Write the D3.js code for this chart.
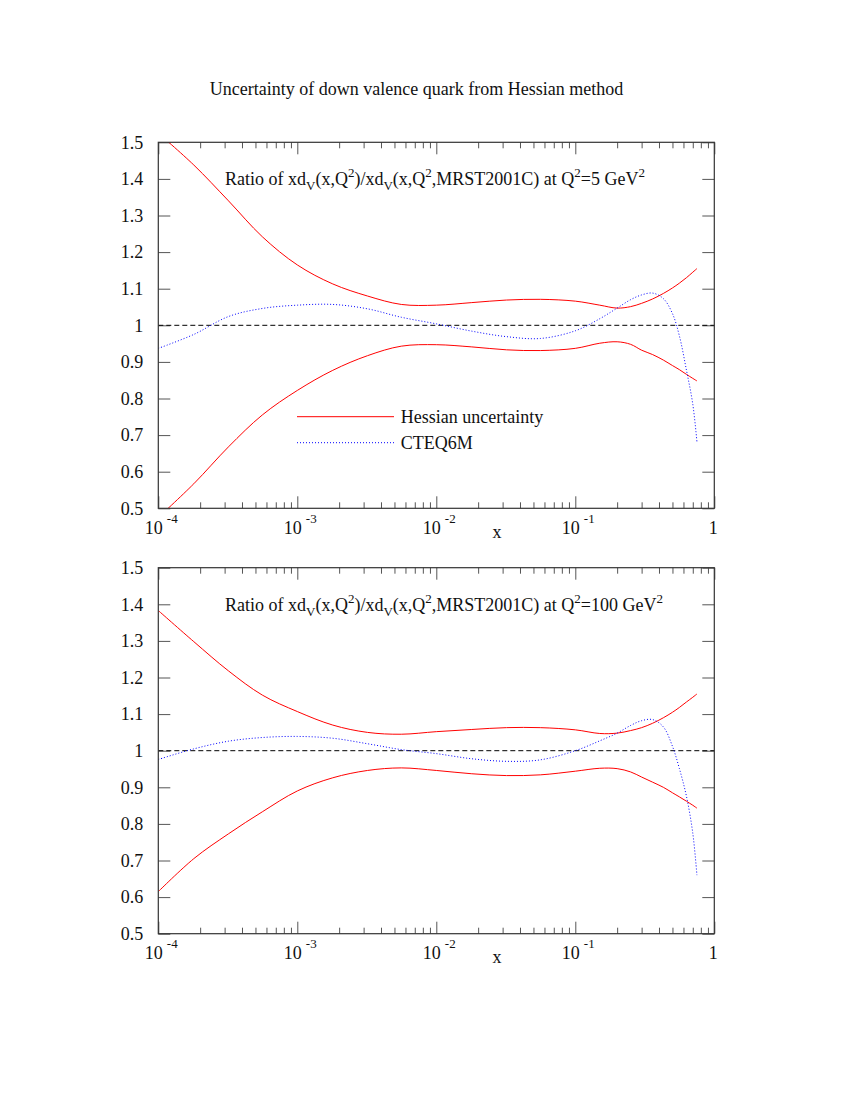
<!DOCTYPE html>
<html>
<head>
<meta charset="utf-8">
<script src="https://cdn.jsdelivr.net/npm/d3@7"></script>
<style>
  body { margin: 0; background: #fff; }
  text { font-family: "Liberation Serif", "Times New Roman", serif; fill: #111; }
</style>
</head>
<body>
<svg id="chart" width="856" height="1107"></svg>
<script>
// x sample points (shared by all curves)
var xPoints = [1e-4, 1.8e-4, 3.2e-4, 5.6e-4, 1e-3, 1.8e-3, 3.2e-3, 5.6e-3, 1e-2, 1.8e-2, 3.2e-2, 5.6e-2,
               0.1, 0.15, 0.2, 0.25, 0.3, 0.36, 0.43, 0.5, 0.56, 0.63, 0.7, 0.75];

// Q2 = 5 GeV2
var upper5 = [1.525, 1.438, 1.34, 1.242, 1.165, 1.113, 1.08, 1.057, 1.055, 1.062, 1.069, 1.071,
              1.066, 1.055, 1.047, 1.051, 1.060, 1.072, 1.087, 1.102, 1.115, 1.130, 1.145, 1.155];
var lower5 = [0.475, 0.567, 0.668, 0.755, 0.822, 0.877, 0.917, 0.943, 0.947, 0.941, 0.933, 0.931,
              0.937, 0.951, 0.955, 0.948, 0.932, 0.92, 0.905, 0.89, 0.879, 0.866, 0.855, 0.848];
var cteq5  = [0.937, 0.975, 1.024, 1.046, 1.055, 1.057, 1.045, 1.022, 1.004, 0.984, 0.969, 0.964,
              0.985, 1.018, 1.047, 1.07, 1.083, 1.088, 1.073, 1.032, 0.972, 0.878, 0.785, 0.682];

// Q2 = 100 GeV2
var upper100 = [1.383, 1.298, 1.218, 1.152, 1.107, 1.07, 1.05, 1.045, 1.052, 1.058, 1.063, 1.063,
                1.057, 1.047, 1.048, 1.055, 1.063, 1.075, 1.09, 1.105, 1.118, 1.133, 1.146, 1.155];
var lower100 = [0.615, 0.705, 0.773, 0.833, 0.89, 0.926, 0.946, 0.953, 0.946, 0.937, 0.932, 0.934,
                0.944, 0.952, 0.951, 0.942, 0.928, 0.914, 0.9, 0.885, 0.874, 0.862, 0.851, 0.843];
var cteq100  = [0.976, 1.005, 1.026, 1.036, 1.039, 1.034, 1.019, 1.003, 0.992, 0.978, 0.971, 0.975,
                1.0, 1.027, 1.048, 1.069, 1.082, 1.085, 1.065, 1.012, 0.952, 0.876, 0.775, 0.66];

var xMajorTicks = [1e-4, 1e-3, 1e-2, 1e-1, 1];
var xMajorExp = ["-4", "-3", "-2", "-1", ""];
var yTicks = [0.5, 0.6, 0.7, 0.8, 0.9, 1, 1.1, 1.2, 1.3, 1.4, 1.5];

var PLOT_LEFT = 158.3, PLOT_RIGHT = 714.3, PLOT_HEIGHT = 366;
var FONT = "18px", SMALL_FONT = "13px";

var svg = d3.select("#chart");

svg.append("text")
    .attr("x", 416.5)
    .attr("y", 95)
    .attr("text-anchor", "middle")
    .style("font-size", FONT)
    .text("Uncertainty of down valence quark from Hessian method");

var x = d3.scaleLog().domain([1e-4, 1]).range([PLOT_LEFT, PLOT_RIGHT]);

// minor ticks 2..9 in every decade
var xMinorTicks = [];
xMajorTicks.slice(0, 4).forEach(function(d) {
  for (var k = 2; k <= 9; k++) xMinorTicks.push(d * k);
});

function makePanel(id, top, upper, lower, cteq, qLabel, showLegend) {
  var y = d3.scaleLinear().domain([0.5, 1.5]).range([top + PLOT_HEIGHT, top]);
  var g = svg.append("g").attr("id", id);

  g.append("clipPath").attr("id", id + "_clip")
    .append("rect")
      .attr("x", PLOT_LEFT).attr("y", top)
      .attr("width", PLOT_RIGHT - PLOT_LEFT).attr("height", PLOT_HEIGHT);

  // ticks, all pointing inward
  var tickColor = "#555";
  function styleAxis(sel) {
    sel.select(".domain").remove();
    sel.selectAll("line").attr("stroke", tickColor);
    sel.selectAll("text").style("font-family", "Liberation Serif").style("font-size", FONT).attr("fill", "#111");
  }
  g.append("g").attr("transform", "translate(0," + (top + PLOT_HEIGHT) + ")")
    .call(d3.axisBottom(x).tickValues(xMajorTicks).tickSize(-12).tickSizeOuter(0).tickFormat(""))
    .call(styleAxis);
  g.append("g").attr("transform", "translate(0," + (top + PLOT_HEIGHT) + ")")
    .call(d3.axisBottom(x).tickValues(xMinorTicks).tickSize(-6).tickSizeOuter(0).tickFormat(""))
    .call(styleAxis);
  g.append("g").attr("transform", "translate(0," + top + ")")
    .call(d3.axisTop(x).tickValues(xMajorTicks).tickSize(-12).tickSizeOuter(0).tickFormat(""))
    .call(styleAxis);
  g.append("g").attr("transform", "translate(0," + top + ")")
    .call(d3.axisTop(x).tickValues(xMinorTicks).tickSize(-6).tickSizeOuter(0).tickFormat(""))
    .call(styleAxis);
  g.append("g").attr("transform", "translate(" + PLOT_LEFT + ",0)")
    .call(d3.axisLeft(y).tickValues(yTicks).tickSize(-12).tickSizeOuter(0).tickPadding(15)
      .tickFormat(function(d) { return String(d); }))
    .call(styleAxis);
  g.append("g").attr("transform", "translate(" + PLOT_RIGHT + ",0)")
    .call(d3.axisRight(y).tickValues(yTicks).tickSize(-12).tickSizeOuter(0).tickFormat(""))
    .call(styleAxis);

  // x tick labels with exponents
  var lab = g.selectAll(".xlab").data(xMajorTicks).enter().append("text")
      .attr("class", "xlab")
      .attr("y", top + PLOT_HEIGHT + 25.7)
      .style("font-size", FONT);
  lab.each(function(d, i) {
    var t = d3.select(this);
    if (xMajorExp[i] === "") {
      t.attr("x", x(d) - 1).attr("text-anchor", "middle").text("1");
    } else {
      t.attr("x", x(d) - 13.5).attr("text-anchor", "start");
      t.append("tspan").text("10");
      t.append("tspan").attr("dx", 4).attr("dy", -11).style("font-size", SMALL_FONT).text(xMajorExp[i]);
    }
  });

  g.append("text")
    .attr("x", 497).attr("y", top + PLOT_HEIGHT + 29.7)
    .attr("text-anchor", "middle")
    .style("font-size", FONT)
    .text("x");

  // reference line at 1
  g.append("line")
    .attr("x1", PLOT_LEFT).attr("x2", PLOT_RIGHT)
    .attr("y1", y(1)).attr("y2", y(1))
    .attr("stroke", "#000").attr("stroke-width", 1)
    .attr("stroke-dasharray", "5,3");

  var line = d3.line()
      .x(function(d) { return x(d[0]); })
      .y(function(d) { return y(d[1]); })
      .curve(d3.curveCatmullRom.alpha(0.5));

  var curves = g.append("g").attr("clip-path", "url(#" + id + "_clip)");
  [upper, lower].forEach(function(vals) {
    curves.append("path")
      .datum(d3.zip(xPoints, vals))
      .attr("d", line)
      .attr("fill", "none")
      .attr("stroke", "#ff0000")
      .attr("stroke-width", 1);
  });
  curves.append("path")
    .datum(d3.zip(xPoints, cteq))
    .attr("d", line)
    .attr("fill", "none")
    .attr("stroke", "#0000ff")
    .attr("stroke-width", 1)
    .attr("stroke-dasharray", "1,2");

  // frame
  g.append("rect")
    .attr("x", PLOT_LEFT).attr("y", top)
    .attr("width", PLOT_RIGHT - PLOT_LEFT).attr("height", PLOT_HEIGHT)
    .attr("fill", "none").attr("stroke", "#333").attr("stroke-width", 1.2);

  // in-plot label
  var lbl = g.append("text")
    .attr("x", 225).attr("y", top + 43)
    .style("font-size", FONT);
  var parts = [["Ratio of xd", 0], ["V", 1], ["(x,Q", 0], ["2", 2], [")/xd", 0], ["V", 1],
               ["(x,Q", 0], ["2", 2], [",MRST2001C) at Q", 0], ["2", 2], ["=" + qLabel + " GeV", 0], ["2", 2]];
  var shift = 0;
  parts.forEach(function(p) {
    var target = p[1] === 1 ? 5 : (p[1] === 2 ? -8 : 0);
    var ts = lbl.append("tspan").attr("dy", target - shift).text(p[0]);
    if (p[1] !== 0) ts.style("font-size", SMALL_FONT);
    shift = target;
  });

  if (showLegend) {
    var legend = [["Hessian uncertainty", "#ff0000", null], ["CTEQ6M", "#0000ff", "1,2"]];
    legend.forEach(function(l, i) {
      var ly = top + 274.4 + i * 26;
      g.append("line")
        .attr("x1", 297).attr("x2", 394).attr("y1", ly).attr("y2", ly)
        .attr("stroke", l[1]).attr("stroke-width", 1)
        .attr("stroke-dasharray", l[2]);
      g.append("text")
        .attr("x", 400.7).attr("y", ly + 6)
        .style("font-size", FONT)
        .text(l[0]);
    });
  }
}

makePanel("panel5", 142.3, upper5, lower5, cteq5, "5", true);
makePanel("panel100", 567.7, upper100, lower100, cteq100, "100", false);
</script>
</body>
</html>
